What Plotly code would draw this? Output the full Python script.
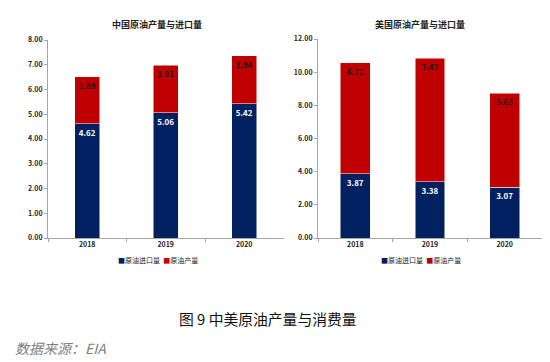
import plotly.graph_objects as go

years = ["2018", "2019", "2020"]
cn_import = [4.62, 5.06, 5.42]
cn_prod = [1.89, 1.91, 1.94]
us_import = [3.87, 3.38, 3.07]
us_prod = [6.71, 7.47, 5.65]
cn_ticks = [0, 1, 2, 3, 4, 5, 6, 7, 8]
us_ticks = [0, 2, 4, 6, 8, 10, 12]
series_names = ["原油进口量", "原油产量"]

NAVY = "#002060"
RED = "#C00000"
FONT = "Noto Sans CJK SC"
W, H = 550, 362
OFF = 8  # default page body margin shifts the figure

fig = go.Figure()

def add_pair(imp, prod, xa, ya, width):
    fig.add_trace(go.Bar(x=years, y=imp, name=series_names[0], marker_color=NAVY,
                         xaxis=xa, yaxis=ya, width=width, showlegend=False,
                         text=[f"{v:.2f}" for v in imp], textposition="inside",
                         insidetextanchor="end", textangle=0,
                         textfont=dict(color="white", size=8, family=FONT, weight="bold"),
                         marker_line=dict(color="white", width=0.5)))
    fig.add_trace(go.Bar(x=years, y=prod, name=series_names[1], marker_color=RED,
                         xaxis=xa, yaxis=ya, width=width, showlegend=False,
                         text=[f"{v:.2f}" for v in prod], textposition="inside",
                         insidetextanchor="end", textangle=0,
                         textfont=dict(color="#1a1a1a", size=8, family=FONT, weight="bold"),
                         marker_line=dict(color="white", width=0.5)))

add_pair(cn_import, cn_prod, "x", "y", 0.32)
add_pair(us_import, us_prod, "x2", "y2", 0.4)

def px_x(v):
    return (v - OFF) / W

def px_y(v):
    return 1 - (v - OFF) / H

axis_common = dict(showgrid=False, showline=True, linecolor="#a6a6a6", linewidth=1,
                   ticks="outside", ticklen=3, tickcolor="#a6a6a6", automargin=False,
                   zeroline=False,
                   tickfont=dict(size=7, family=FONT, color="#222", weight="bold"))

def legend_text():
    return (f"<span style='color:{NAVY}'>■</span>{series_names[0]}"
            f"  <span style='color:{RED}'>■</span>{series_names[1]}")

def ann(text, x, y, size, color, bold=False, xanchor="center"):
    f = dict(size=size, family=FONT, color=color)
    if bold:
        f["weight"] = "bold"
    return dict(text=text, x=px_x(x), y=px_y(y), xref="paper", yref="paper",
                xanchor=xanchor, yanchor="middle", showarrow=False, font=f)

fig.update_layout(
    width=W, height=H, margin=dict(l=0, r=0, t=0, b=0),
    paper_bgcolor="white", plot_bgcolor="white", barmode="stack",
    uniformtext=dict(minsize=6, mode="show"),
    xaxis=dict(domain=[px_x(48), px_x(283.5)], anchor="y", tickson="boundaries",
               **axis_common),
    yaxis=dict(domain=[px_y(238), px_y(40)], anchor="x", range=[0, 8],
               tickvals=cn_ticks, ticktext=[f"{v:.2f}" for v in cn_ticks], **axis_common),
    xaxis2=dict(domain=[px_x(318), px_x(542)], anchor="y2", tickson="boundaries",
                **axis_common),
    yaxis2=dict(domain=[px_y(238), px_y(39)], anchor="x2", range=[0, 12],
                tickvals=us_ticks, ticktext=[f"{v:.2f}" for v in us_ticks], **axis_common),
    annotations=[
        ann("中国原油产量与进口量", 157, 24, 9, "#222", bold=True),
        ann("美国原油产量与进口量", 420, 24, 9, "#222", bold=True),
        ann(legend_text(), 158, 260, 7, "#222"),
        ann(legend_text(), 421, 260, 7, "#222"),
        ann("图 9 中美原油产量与消费量", 268, 318, 14.8, "#111"),
        ann("<i>数据来源：EIA</i>", 13, 348, 14, "#808080", xanchor="left"),
    ],
)

fig.write_html("out.html")
